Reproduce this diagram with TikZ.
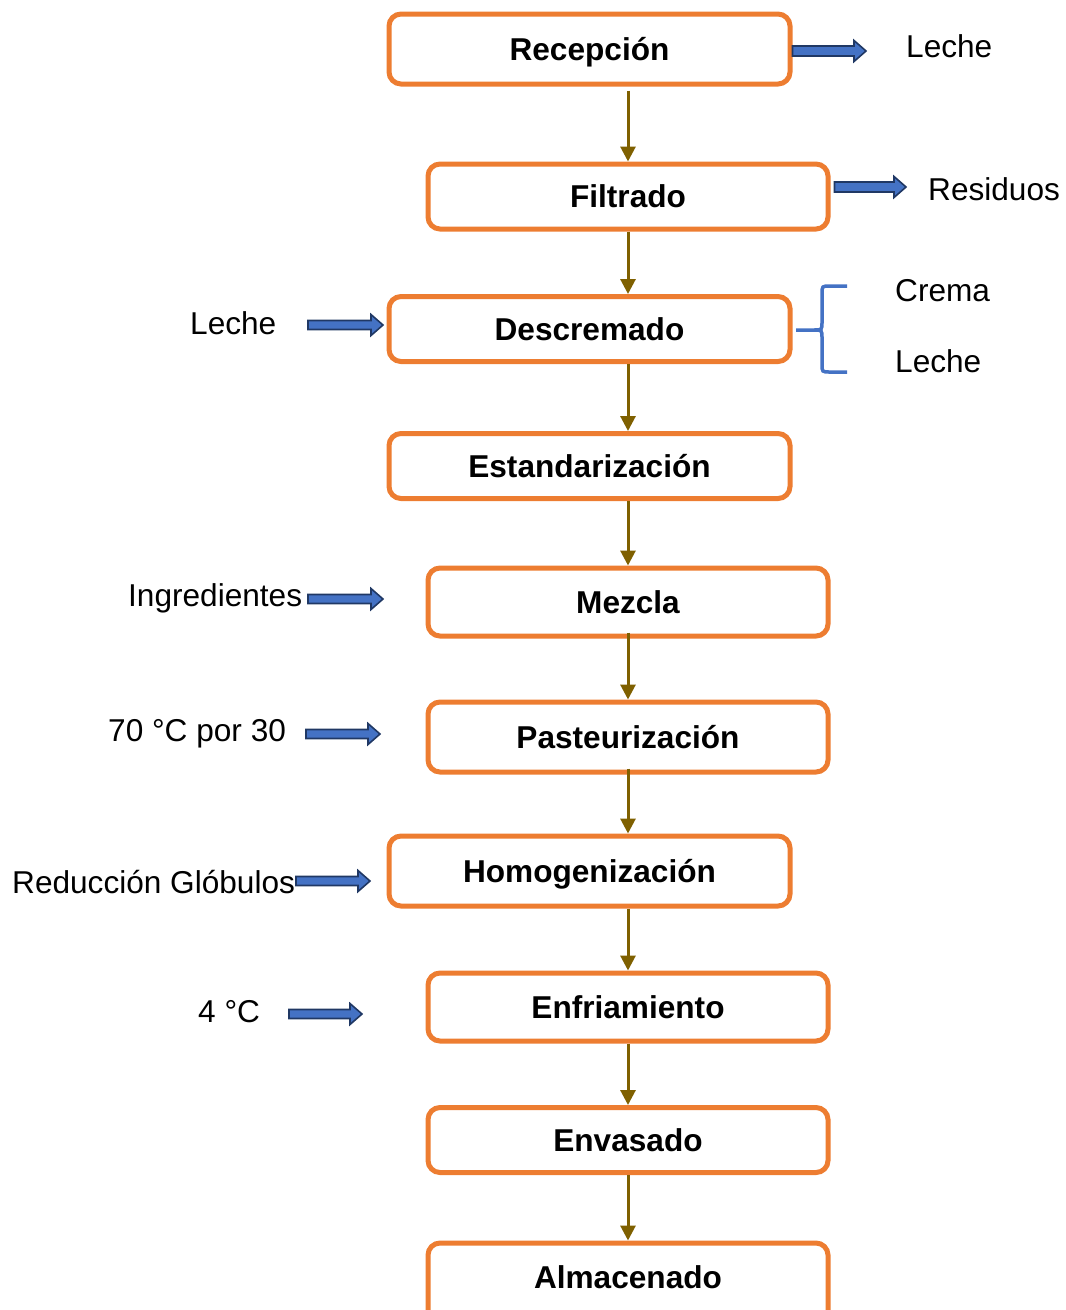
\documentclass[tikz,border=0pt]{standalone}
\usepackage{fontspec}
\setmainfont{Liberation Sans}
\usetikzlibrary{arrows.meta,calc}
\definecolor{boxorange}{HTML}{ED7D31}
\definecolor{arrblue}{HTML}{4472C4}
\definecolor{arrdark}{HTML}{203864}
\definecolor{flowbrown}{HTML}{7F6000}
\tikzset{
  procbox/.style={draw=boxorange, line width=5pt, rounded corners=12pt, fill=white,
    minimum width=400pt, inner sep=0pt, text height=22.6pt, text depth=0pt,
    font=\fontsize{31.6}{36}\selectfont\bfseries},
  lbl/.style={anchor=base west, inner sep=0pt, font=\fontsize{31.6}{36}\selectfont},
  flow/.style={draw=flowbrown, line width=3pt, -{Triangle[width=15pt,length=15pt]}},
  barrow/.style={draw=arrdark, fill=arrblue, line width=1.6pt, line join=miter},
  brace/.style={draw=arrblue, line width=3.5pt}
}
% block arrow from x of #2 to point #3 (horizontal, y of #3); #1 = half shaft width
\newcommand{\blockarrow}[3][5]{%
  \path (#2 |- #3) coordinate (ba-s) (#3) coordinate (ba-e);
  \draw[barrow] ($(ba-s)+(0,#1)$) -- ($(ba-e)+(-12,#1)$) -- ($(ba-e)+(-12,10.5)$) -- (ba-e)
    -- ($(ba-e)+(-12,-10.5)$) -- ($(ba-e)+(-12,-#1)$) -- ($(ba-s)+(0,-#1)$) -- cycle;}
\begin{document}
\begin{tikzpicture}[x=1pt,y=-1pt]
\useasboundingbox (0,0) rectangle (1066,1310);
\coordinate (axis) at (628,0);
% process boxes
\node[procbox, minimum width=401pt, minimum height=70pt] (rec) at (589.5,49) {Recepción};
\node[procbox, minimum height=65pt] (fil) at (628,196.5) {Filtrado};
\node[procbox, minimum width=401pt, minimum height=65pt] (des) at (589.5,329) {Descremado};
\node[procbox, minimum width=401pt, minimum height=65pt] (est) at (589.5,466) {Estandarización};
\node[procbox, minimum height=68pt] (mez) at (628,602) {Mezcla};
\node[procbox, minimum height=70pt] (pas) at (628,737) {Pasteurización};
\node[procbox, minimum width=401pt, minimum height=70pt] (hom) at (589.5,871) {Homogenización};
\node[procbox, minimum height=68pt] (enf) at (628,1007) {Enfriamiento};
\node[procbox, minimum height=65pt] (env) at (628,1140) {Envasado};
\node[procbox, minimum height=90pt] (alm) at (628,1288) {\raisebox{11pt}{Almacenado}};
% flow arrows
\draw[flow, shorten <=4pt] (axis |- rec.south) -- (axis |- fil.north);
\draw[flow] (axis |- fil.south) -- (axis |- des.north);
\draw[flow] (axis |- des.south) -- (axis |- est.north);
\draw[flow] (axis |- est.south) -- (axis |- mez.north);
\draw[flow, shorten <=-6pt] (axis |- mez.south) -- (axis |- pas.north);
\draw[flow, shorten <=-6pt] (axis |- pas.south) -- (axis |- hom.north);
\draw[flow] (axis |- hom.south) -- (axis |- enf.north);
\draw[flow] (axis |- enf.south) -- (axis |- env.north);
\draw[flow] (axis |- env.south) -- (axis |- alm.north);
% right side outputs
\coordinate (recout) at (866,51);
\blockarrow{rec.east}{recout}
\node[lbl] (lrec) at (906,57) {Leche};
\coordinate (filout) at (906,187);
\blockarrow{[xshift=4pt]fil.east}{filout}
\node[lbl] (lfil) at (928,200) {Residuos};
% brace after Descremado
\draw[brace] (847,286) -- (830,286) .. controls (822,286) .. (822,294) -- (822,322)
  .. controls (822,330) .. (814,330) -- (796,330);
\draw[brace] (814,330) .. controls (822,330) .. (822,338) -- (822,364)
  .. controls (822,372) .. (830,372) -- (847,372);
\node[lbl] (lcre) at (895,301) {Crema};
\node[lbl] (lles) at (895,372) {Leche};
% left side inputs
\node[lbl] (lded) at (190,334) {Leche};
\coordinate (dess) at (308,325); \coordinate (dese) at (383,325);
\blockarrow[4.5]{dess}{dese}
\node[lbl] (ling) at (128,606) {Ingredientes};
\coordinate (mezs) at (308,599); \coordinate (meze) at (383,599);
\blockarrow[4.5]{mezs}{meze}
\node[lbl] (ltem) at (108,741) {70 °C por 30};
\coordinate (pass) at (306,734); \coordinate (pase) at (380,734);
\blockarrow[4.5]{pass}{pase}
\node[lbl] (lred) at (12,893) {Reducción Glóbulos};
\coordinate (homs) at (296,881); \coordinate (home) at (370,881);
\blockarrow[4.5]{homs}{home}
\node[lbl] (lfri) at (198,1022) {4 °C};
\coordinate (enfs) at (289,1014); \coordinate (enfe) at (362,1014);
\blockarrow[4.5]{enfs}{enfe}
\end{tikzpicture}
\end{document}
